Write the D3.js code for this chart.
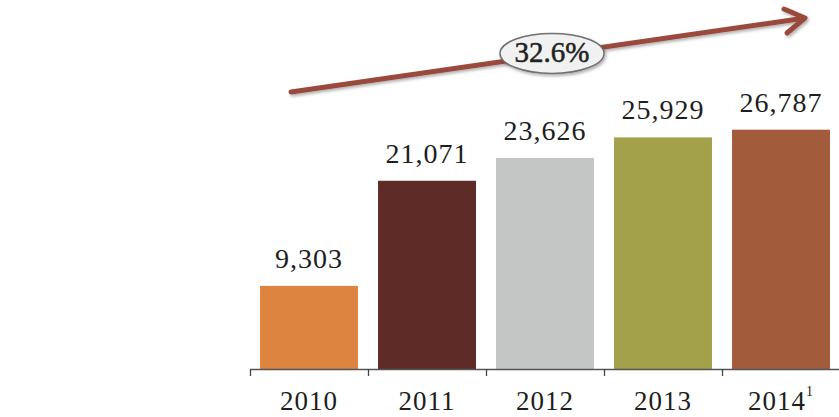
<!DOCTYPE html>
<html>
<head>
<meta charset="utf-8">
<script src="https://cdn.jsdelivr.net/npm/d3@7"></script>
<style>
  html, body { margin: 0; padding: 0; background: #ffffff; }
  svg { display: block; }
</style>
</head>
<body>
<svg id="chart" width="839" height="417"></svg>
<script>
const categories = ["2010", "2011", "2012", "2013", "2014"];
const values = [9303, 21071, 23626, 25929, 26787];
const valueLabels = ["9,303", "21,071", "23,626", "25,929", "26,787"];
const superscripts = ["", "", "", "", "1"];
const barColors = ["#dd8440", "#5e2b26", "#c4c6c5", "#a3a24a", "#a35c3b"];
const growthLabel = "32.6%";

const svg = d3.select("#chart");
const baseY = 369;

const x = d3.scaleBand()
  .domain(categories)
  .range([250, 840])
  .paddingInner(0.17)
  .paddingOuter(0.085);

const y = d3.scaleLinear()
  .domain([0, 30000])
  .range([baseY, baseY - 268]);

const defs = svg.append("defs");
const sh = defs.append("filter").attr("id", "shadow")
  .attr("x", "-20%").attr("y", "-40%").attr("width", "150%").attr("height", "190%");
sh.append("feDropShadow").attr("dx", 1.5).attr("dy", 2).attr("stdDeviation", 1.5)
  .attr("flood-color", "#000").attr("flood-opacity", 0.3);

// bars
svg.append("g").selectAll("rect")
  .data(categories)
  .join("rect")
  .attr("x", d => x(d))
  .attr("width", x.bandwidth())
  .attr("y", (d, i) => y(values[i]))
  .attr("height", (d, i) => baseY - y(values[i]))
  .attr("fill", (d, i) => barColors[i]);

// axis line + ticks at band boundaries
const axis = svg.append("g");
const [r0, r1] = x.range();
axis.append("line")
  .attr("x1", r0).attr("x2", 839)
  .attr("y1", baseY + 0.5).attr("y2", baseY + 0.5)
  .attr("stroke", "#555").attr("stroke-width", 1.3);
axis.selectAll("line.tick")
  .data(d3.range(categories.length + 1))
  .join("line")
  .attr("class", "tick")
  .attr("x1", i => r0 + i * x.step() + 0.5)
  .attr("x2", i => r0 + i * x.step() + 0.5)
  .attr("y1", baseY)
  .attr("y2", baseY + 7)
  .attr("stroke", "#444").attr("stroke-width", 1.3);

// category labels
const cat = svg.append("g").selectAll("text")
  .data(categories)
  .join("text")
  .attr("x", d => x(d) + x.bandwidth() / 2)
  .attr("y", 410)
  .attr("text-anchor", "middle")
  .attr("font-family", "'Liberation Serif', 'DejaVu Serif', serif")
  .attr("font-size", 27)
  .attr("letter-spacing", 1)
  .attr("fill", "#1e1e1e")
  .text(d => d);
cat.filter((d, i) => superscripts[i] !== "")
  .append("tspan")
  .attr("dy", -14)
  .attr("font-size", 14)
  .text((d) => superscripts[categories.indexOf(d)]);

// value labels
svg.append("g").selectAll("text")
  .data(categories)
  .join("text")
  .attr("x", d => x(d) + x.bandwidth() / 2)
  .attr("y", (d, i) => y(values[i]) - 18)
  .attr("text-anchor", "middle")
  .attr("font-family", "'Liberation Serif', 'DejaVu Serif', serif")
  .attr("font-size", 28)
  .attr("letter-spacing", 1)
  .attr("fill", "#1e1e1e")
  .text((d, i) => valueLabels[i]);

// growth arrow (annotation)
const ax0 = x(categories[0]) + 31, ay0 = 92;
const ax1 = 805, ay1 = 18;
const arrowColor = "#9a4a3c";
const ag = svg.append("g").attr("filter", "url(#shadow)");
ag.append("line")
  .attr("x1", ax0).attr("y1", ay0).attr("x2", ax1 - 3).attr("y2", ay1 + 0.5)
  .attr("stroke", arrowColor).attr("stroke-width", 5).attr("stroke-linecap", "round");
ag.append("path")
  .attr("d", `M${ax1 - 21},${ay1 - 9} L${ax1},${ay1} L${ax1 - 18},${ay1 + 15}`)
  .attr("fill", "none")
  .attr("stroke", arrowColor).attr("stroke-width", 5)
  .attr("stroke-linecap", "round").attr("stroke-linejoin", "round");

const ex = 552;
const ey = ay0 + (ay1 - ay0) * (ex - ax0) / (ax1 - ax0) - 1;
svg.append("ellipse")
  .attr("cx", ex).attr("cy", ey).attr("rx", 52).attr("ry", 20)
  .attr("fill", "#f1f1f1").attr("stroke", "#6f6f6f").attr("stroke-width", 1.5)
  .attr("filter", "url(#shadow)");
svg.append("text")
  .attr("x", ex).attr("y", ey + 9)
  .attr("text-anchor", "middle")
  .attr("font-family", "'Liberation Serif', 'DejaVu Serif', serif")
  .attr("font-size", 29)
  .attr("fill", "#222")
  .attr("stroke", "#222")
  .attr("stroke-width", 0.5)
  .text(growthLabel);
</script>
</body>
</html>
